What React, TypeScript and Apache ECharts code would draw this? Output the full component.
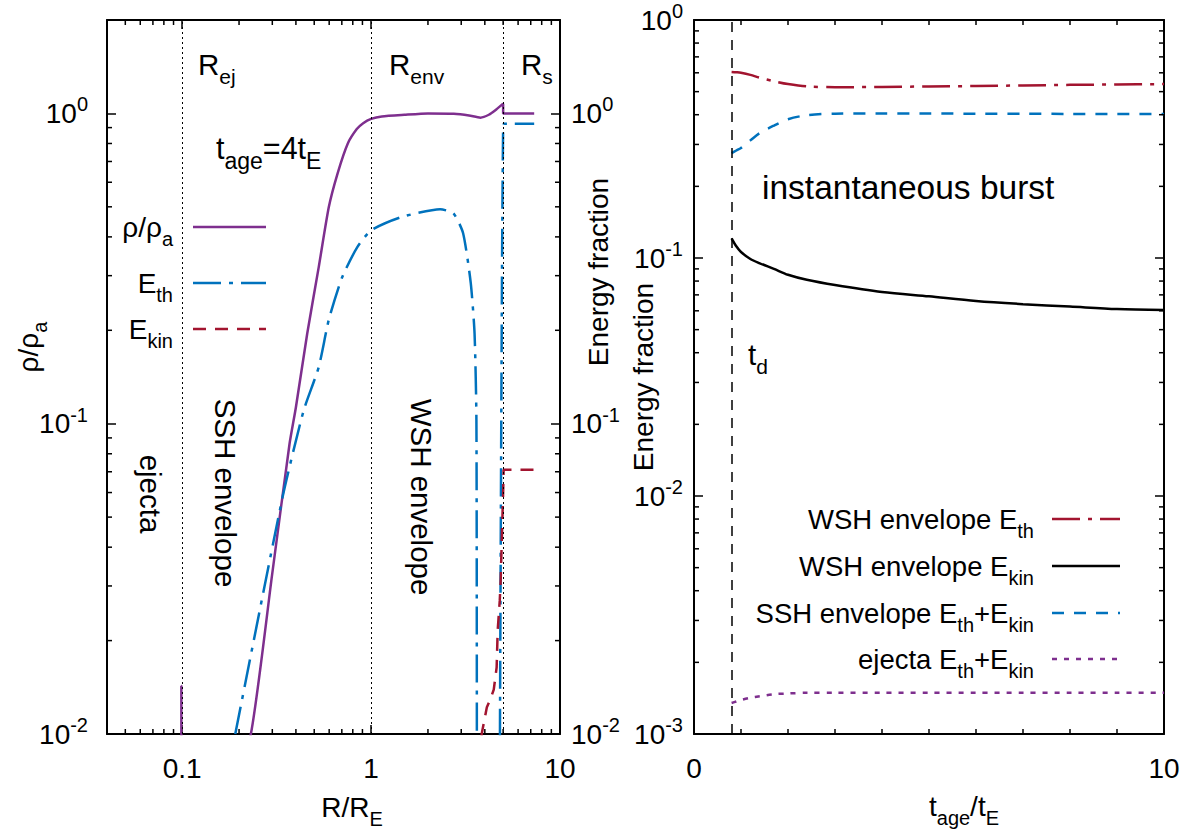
import React, { useEffect, useRef } from "react";
import * as echarts from "echarts";

const FONT = '"Liberation Sans", Arial, Helvetica, sans-serif';
const PURPLE = "#7E2F8E";
const BLUE = "#0072BD";
const RED = "#A2142F";
const BLACK = "#000000";

// ---------- Left panel: profiles at t_age = 4 t_E (x = R/R_E) ----------
const rhoR = [0.0985, 0.099, 0.0995, 0.231, 0.3, 0.37, 0.4, 0.459, 0.528, 0.597, 0.665, 0.753, 0.84, 0.908, 1.0, 1.14, 1.5, 2.0, 2.74, 3.3, 3.79, 4.2, 4.6, 5.0, 5.0, 7.3];
const rhoVal = [0.001, 0.0143, 0.001, 0.01, 0.033, 0.086, 0.113, 0.195, 0.319, 0.498, 0.641, 0.8, 0.89, 0.93, 0.96, 0.978, 0.99, 1.0, 0.998, 0.985, 0.969, 0.99, 1.03, 1.075, 1.0, 1.0];

const ethR = [0.191, 0.34, 0.439, 0.528, 0.597, 0.702, 0.844, 1.0, 1.44, 2.32, 2.73, 3.07, 3.37, 3.53, 3.61, 3.63, 3.64, 4.78, 4.81, 4.93, 5.0, 5.05, 7.3];
const ethVal = [0.01, 0.058, 0.11, 0.152, 0.216, 0.296, 0.37, 0.42, 0.463, 0.491, 0.476, 0.411, 0.284, 0.195, 0.103, 0.01, 0.001, 0.001, 0.01, 0.3, 0.9, 0.926, 0.926];

const ekinR = [3.8, 3.85, 4.1, 4.27, 4.46, 4.62, 4.68, 4.8, 4.85, 5.0, 5.03, 7.3];
const ekinVal = [0.006, 0.01, 0.0122, 0.0129, 0.0139, 0.0164, 0.0216, 0.027, 0.031, 0.06, 0.071, 0.071];

const boundaries = [0.1, 1, 5]; // R_ej, R_env, R_s

// ---------- Right panel: energy fractions vs t_age/t_E ----------
const tAge = [0.8, 0.9, 1.0, 1.2, 1.4, 1.7, 2.0, 2.4, 3.0, 4.0, 5.0, 6.0, 7.0, 8.0, 9.0, 10.0];
const wshEth = [0.605, 0.603, 0.6, 0.588, 0.572, 0.553, 0.538, 0.526, 0.522, 0.523, 0.526, 0.528, 0.531, 0.534, 0.536, 0.538];
const wshEkin = [0.121, 0.112, 0.106, 0.099, 0.095, 0.09, 0.085, 0.081, 0.077, 0.072, 0.069, 0.066, 0.064, 0.0625, 0.061, 0.0605];
const sshE = [0.276, 0.283, 0.29, 0.312, 0.335, 0.36, 0.383, 0.398, 0.404, 0.405, 0.405, 0.404, 0.404, 0.403, 0.403, 0.403];
const ejectaE = [0.00135, 0.00137, 0.00139, 0.00142, 0.00144, 0.00147, 0.00148, 0.00149, 0.00149, 0.00149, 0.00149, 0.00149, 0.00149, 0.00149, 0.00149, 0.00149];
const tD = 0.8;

// minor tick multipliers
const LOG_MULT = [2, 3, 4, 5, 6, 7, 8, 9];
const LIN_MINOR = [1, 2, 3, 4, 5, 6, 7, 8, 9];

function logMinor(decades: number[], lo: number, hi: number) {
  const out: number[] = [];
  decades.forEach((d) => LOG_MULT.forEach((m) => {
    const v = d * m;
    if (v > lo * 1.0001 && v < hi * 0.9999) out.push(v);
  }));
  return out;
}

const pairs = (xs: number[], ys: number[]) => xs.map((x, i) => [x, ys[i]]);

const pow10Label = (v: number) => {
  const e = Math.log10(v);
  const r = Math.round(e);
  if (Math.abs(e - r) > 1e-6) return "";
  return `{b|10}{p|${r}}`;
};
const plainLogLabel = (v: number) => {
  const e = Math.log10(v);
  if (Math.abs(e - Math.round(e)) > 1e-6) return "";
  return String(Number(v.toPrecision(6)));
};

const supRich = {
  b: { fontSize: 28, lineHeight: 38, fontFamily: FONT, color: BLACK },
  p: { fontSize: 20, lineHeight: 20, verticalAlign: "top", fontFamily: FONT, color: BLACK },
};

const subRich = (f: number, s: number) => ({
  m: { fontSize: f, lineHeight: Math.round(f * 1.56), fontFamily: FONT, fill: BLACK, color: BLACK },
  s: { fontSize: s, lineHeight: s, verticalAlign: "bottom", fontFamily: FONT, fill: BLACK, color: BLACK },
});

function txt(x: number, y: number, text: string, opts: any = {}) {
  const f = opts.fontSize || 29.5;
  const s = opts.subSize || Math.round(f * 0.72);
  const align = opts.align || "left";
  return {
    type: "text",
    x,
    y,
    rotation: opts.rotation || 0,
    silent: true,
    z: 100,
    style: {
      text,
      rich: subRich(f, s),
      fill: BLACK,
      font: `${f}px ${FONT}`,
      fontSize: f,
      fontFamily: FONT,
      align,
      verticalAlign: "middle",
      textAlign: align,
      textVerticalAlign: "middle",
    },
  };
}

function seg(x1: number, y: number, x2: number, color: string, dash: number[] | null) {
  return {
    type: "line",
    silent: true,
    z: 100,
    shape: { x1, y1: y, x2, y2: y },
    style: { stroke: color, lineWidth: 2.5, lineDash: dash || undefined },
  };
}

function minorTicks(xAxisIndex: number, yAxisIndex: number, anchor: number[], xs: number[], ys: number[]) {
  return {
    type: "custom",
    xAxisIndex,
    yAxisIndex,
    silent: true,
    clip: false,
    z: 10,
    data: [anchor],
    renderItem: (params: any, api: any) => {
      const cs = params.coordSys;
      const L = 5;
      const st = { stroke: BLACK, lineWidth: 1.5 };
      const children: any[] = [];
      xs.forEach((v) => {
        const px = api.coord([v, anchor[1]])[0];
        children.push({ type: "line", shape: { x1: px, y1: cs.y + cs.height, x2: px, y2: cs.y + cs.height - L }, style: st });
        children.push({ type: "line", shape: { x1: px, y1: cs.y, x2: px, y2: cs.y + L }, style: st });
      });
      ys.forEach((v) => {
        const py = api.coord([anchor[0], v])[1];
        children.push({ type: "line", shape: { x1: cs.x, y1: py, x2: cs.x + L, y2: py }, style: st });
        children.push({ type: "line", shape: { x1: cs.x + cs.width, y1: py, x2: cs.x + cs.width - L, y2: py }, style: st });
      });
      return { type: "group", children };
    },
  };
}

const axisCommon = {
  axisLine: { show: true, onZero: false, lineStyle: { color: BLACK, width: 2 } },
  axisTick: { show: true, inside: true, length: 9, lineStyle: { color: BLACK, width: 1.5 } },
  splitLine: { show: false },
  minorTick: { show: false },
};

export default function App() {
  const ref = useRef<HTMLDivElement>(null);
  useEffect(() => {
    if (!ref.current) return;
    const chart = echarts.init(ref.current, undefined, { renderer: "svg" });
    const xLabel = { show: true, fontSize: 28, fontFamily: FONT, color: BLACK, margin: 20 };
    const option: any = {
      animation: false,
      backgroundColor: "#ffffff",
      textStyle: { fontFamily: FONT },
      grid: [
        { left: 107, top: 20, width: 453, height: 714 },
        { left: 694, top: 20, width: 470, height: 714 },
      ],
      xAxis: [
        { ...axisCommon, type: "log", logBase: 10, gridIndex: 0, min: 0.04, max: 10, position: "bottom",
          axisLabel: { ...xLabel, formatter: plainLogLabel } },
        { ...axisCommon, type: "log", logBase: 10, gridIndex: 0, min: 0.04, max: 10, position: "top",
          axisLabel: { show: false } },
        { ...axisCommon, type: "value", gridIndex: 1, min: 0, max: 10, interval: 10, position: "bottom",
          axisLabel: { ...xLabel, formatter: (v: number) => String(v) } },
        { ...axisCommon, type: "value", gridIndex: 1, min: 0, max: 10, interval: 10, position: "top",
          axisLabel: { show: false } },
      ],
      yAxis: [
        { ...axisCommon, type: "log", logBase: 10, gridIndex: 0, min: 0.01, max: 2, position: "left",
          axisLabel: { show: true, margin: 19, formatter: pow10Label, rich: supRich } },
        { ...axisCommon, type: "log", logBase: 10, gridIndex: 0, min: 0.01, max: 2, position: "right",
          axisLabel: { show: true, margin: 11, formatter: pow10Label, rich: supRich } },
        { ...axisCommon, type: "log", logBase: 10, gridIndex: 1, min: 0.001, max: 1, position: "left",
          axisLabel: { show: true, margin: 11, formatter: pow10Label, rich: supRich } },
        { ...axisCommon, type: "log", logBase: 10, gridIndex: 1, min: 0.001, max: 1, position: "right",
          axisLabel: { show: false } },
      ],
      series: [
        {
          name: "ρ/ρa", type: "line", xAxisIndex: 0, yAxisIndex: 0, showSymbol: false, smooth: 0.2, z: 3,
          data: pairs(rhoR, rhoVal),
          lineStyle: { color: PURPLE, width: 2.5 },
          markLine: {
            silent: true, symbol: ["none", "none"], label: { show: false },
            lineStyle: { color: BLACK, width: 1, type: [2, 3] },
            data: boundaries.map((b) => ({ xAxis: b })),
          },
        },
        {
          name: "Eth", type: "line", xAxisIndex: 0, yAxisIndex: 1, showSymbol: false, smooth: 0.2, z: 3,
          data: pairs(ethR, ethVal),
          lineStyle: { color: BLUE, width: 2.5, type: [28, 8, 4, 8] },
        },
        {
          name: "Ekin", type: "line", xAxisIndex: 0, yAxisIndex: 1, showSymbol: false, z: 3,
          data: pairs(ekinR, ekinVal),
          lineStyle: { color: RED, width: 2.5, type: [13, 9] },
        },
        {
          name: "WSH envelope Eth", type: "line", xAxisIndex: 2, yAxisIndex: 2, showSymbol: false, smooth: 0.3, z: 3,
          data: pairs(tAge, wshEth),
          lineStyle: { color: RED, width: 2.5, type: [28, 8, 4, 8] },
        },
        {
          name: "WSH envelope Ekin", type: "line", xAxisIndex: 2, yAxisIndex: 2, showSymbol: false, smooth: 0.3, z: 3,
          data: pairs(tAge, wshEkin),
          lineStyle: { color: BLACK, width: 2.5 },
          markLine: {
            silent: true, symbol: ["none", "none"], label: { show: false },
            lineStyle: { color: BLACK, width: 1.5, type: [10, 8] },
            data: [{ xAxis: tD }],
          },
        },
        {
          name: "SSH envelope Eth+Ekin", type: "line", xAxisIndex: 2, yAxisIndex: 2, showSymbol: false, smooth: 0.3, z: 3,
          data: pairs(tAge, sshE),
          lineStyle: { color: BLUE, width: 2.5, type: [12, 10] },
        },
        {
          name: "ejecta Eth+Ekin", type: "line", xAxisIndex: 2, yAxisIndex: 2, showSymbol: false, smooth: 0.3, z: 3,
          data: pairs(tAge, ejectaE),
          lineStyle: { color: PURPLE, width: 2.5, type: [5, 7] },
        },
        minorTicks(0, 0, [1, 0.1], logMinor([0.01, 0.1, 1], 0.04, 10), logMinor([0.01, 0.1, 1], 0.01, 2)),
        minorTicks(2, 2, [5, 0.1], LIN_MINOR, logMinor([0.001, 0.01, 0.1], 0.001, 1)),
      ],
      graphic: [
        // left panel annotations
        txt(198, 64, "{m|R}{s|ej}"),
        txt(389, 64, "{m|R}{s|env}"),
        txt(521, 64, "{m|R}{s|s}"),
        txt(216, 148, "{m|t}{s|age}{m|=4t}{s|E}", { fontSize: 30.5, subSize: 23 }),
        txt(150, 494, "{m|ejecta}", { align: "center", rotation: -Math.PI / 2 }),
        txt(225, 493, "{m|SSH envelope}", { align: "center", rotation: -Math.PI / 2 }),
        txt(421, 497, "{m|WSH envelope}", { align: "center", rotation: -Math.PI / 2 }),
        // left legend
        txt(173, 227, "{m|ρ/ρ}{s|a}", { align: "right", fontSize: 28, subSize: 20 }),
        txt(173, 283, "{m|E}{s|th}", { align: "right", fontSize: 28, subSize: 20 }),
        txt(173, 329, "{m|E}{s|kin}", { align: "right", fontSize: 28, subSize: 20 }),
        seg(193, 227, 266, PURPLE, null),
        seg(193, 283, 266, BLUE, [28, 8, 4, 8]),
        seg(193, 329, 266, RED, [13, 9]),
        // axis titles
        txt(28, 347, "{m|ρ/ρ}{s|a}", { align: "center", rotation: Math.PI / 2, fontSize: 28, subSize: 20 }),
        txt(598, 272, "{m|Energy fraction}", { align: "center", rotation: Math.PI / 2, fontSize: 28 }),
        txt(352, 807, "{m|R/R}{s|E}", { align: "center", fontSize: 28, subSize: 20 }),
        // right panel annotations
        txt(762, 187, "{m|instantaneous burst}", { fontSize: 33.5 }),
        txt(748, 354, "{m|t}{s|d}"),
        txt(1034, 519, "{m|WSH envelope E}{s|th}", { align: "right", fontSize: 27.5, subSize: 20 }),
        txt(1034, 566, "{m|WSH envelope E}{s|kin}", { align: "right", fontSize: 27.5, subSize: 20 }),
        txt(1034, 613, "{m|SSH envelope E}{s|th}{m|+E}{s|kin}", { align: "right", fontSize: 27.5, subSize: 20 }),
        txt(1034, 659, "{m|ejecta E}{s|th}{m|+E}{s|kin}", { align: "right", fontSize: 27.5, subSize: 20 }),
        seg(1052, 519, 1120, RED, [28, 8, 4, 8]),
        seg(1052, 566, 1120, BLACK, null),
        seg(1052, 613, 1120, BLUE, [12, 10]),
        seg(1052, 659, 1120, PURPLE, [5, 7]),
        txt(643, 377, "{m|Energy fraction}", { align: "center", rotation: Math.PI / 2, fontSize: 28 }),
        txt(964, 806, "{m|t}{s|age}{m|/t}{s|E}", { align: "center", fontSize: 28, subSize: 20 }),
      ],
    };
    chart.setOption(option);
    return () => chart.dispose();
  }, []);
  return (
    <div
      ref={ref}
      style={{ position: "absolute", left: 0, top: 0, width: 1198, height: 831, background: "#fff" }}
    />
  );
}
